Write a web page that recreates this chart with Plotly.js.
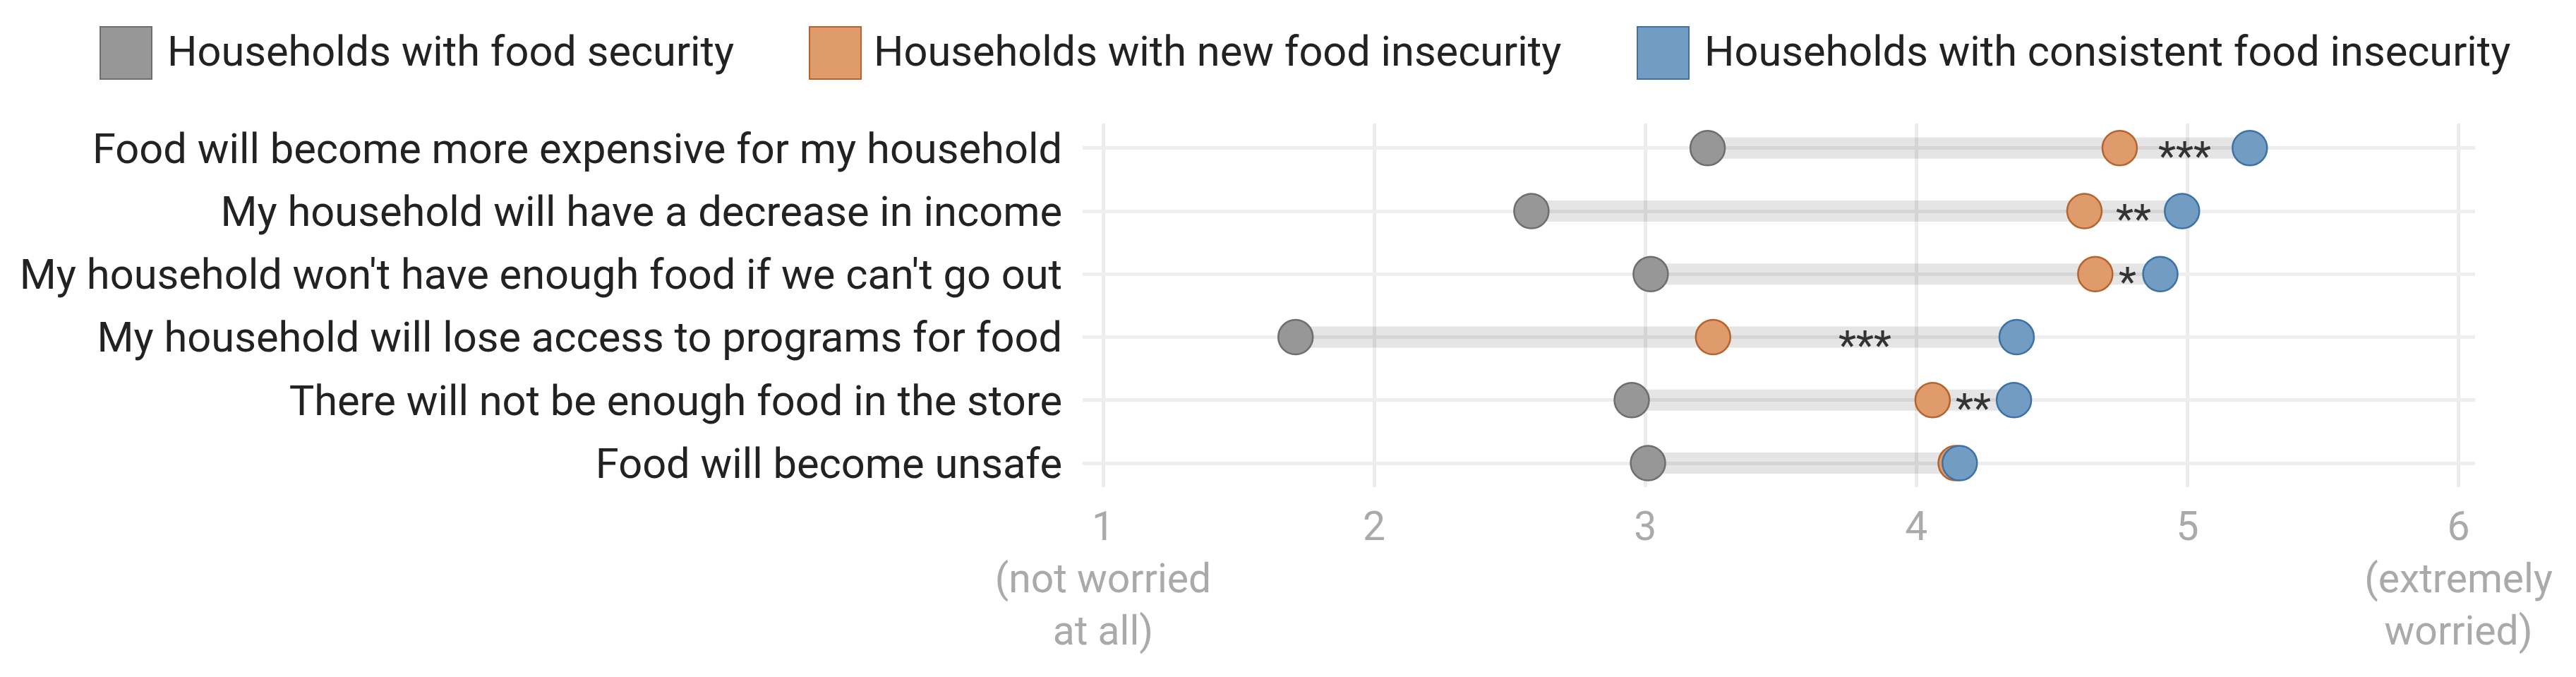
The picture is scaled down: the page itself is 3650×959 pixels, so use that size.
<!DOCTYPE html>
<html>
<head>
<meta charset="utf-8">
<script src="https://cdn.plot.ly/plotly-3.0.1.min.js"></script>
<style>
  html, body { margin: 0; padding: 0; background: #fff; }
  #chart { width: 3650px; height: 959px; }
</style>
</head>
<body>
<div id="chart"></div>
<script>
// data
const statements = [
    "Food will become more expensive for my household",
    "My household will have a decrease in income",
    "My household won't have enough food if we can't go out",
    "My household will lose access to programs for food",
    "There will not be enough food in the store",
    "Food will become unsafe"
];

const foodSecure = [3.23, 2.58, 3.02, 1.71, 2.95, 3.01];
const newInsecure = [4.75, 4.62, 4.66, 3.25, 4.06, 4.145];
const consistentInsecure = [5.23, 4.98, 4.90, 4.37, 4.36, 4.16];

const significance = ["***", "**", "*", "***", "**", ""];

const seriesNames = [
    "Households with food security",
    "Households with new food insecurity",
    "Households with consistent food insecurity"
];

const tickValues = [1, 2, 3, 4, 5, 6];
const tickLabels = [
    "1<br>(not worried<br>at all)",
    "2",
    "3",
    "4",
    "5",
    "6<br>(extremely<br>worried)"
];

// styles
const fills = ["#979797", "#df9b6c", "#729cc1"];
const borders = ["#6e6e6e", "#b5642f", "#3d72a5"];

const W = 3650, H = 959;
const margin = { l: 1534, r: 143, t: 175, b: 269 };

// pixel -> paper helpers for the hand-built legend
const plotW = W - margin.l - margin.r;
const plotH = H - margin.t - margin.b;
const paperX = px => (px - margin.l) / plotW;
const paperY = py => (H - margin.b - py) / plotH;

// band from lowest to highest group in each row
const bandX = [];
const bandY = [];
statements.forEach((s, i) => {
    const vals = [foodSecure[i], newInsecure[i], consistentInsecure[i]];
    bandX.push(Math.min(...vals), Math.max(...vals), null);
    bandY.push(s, s, null);
});

const traces = [];

traces.push({
    x: bandX,
    y: bandY,
    mode: "lines",
    line: { color: "rgba(0,0,0,0.1)", width: 30 },
    hoverinfo: "skip",
    showlegend: false
});

[foodSecure, newInsecure, consistentInsecure].forEach((series, k) => {
    traces.push({
        x: series,
        y: statements,
        name: seriesNames[k],
        mode: "markers",
        marker: {
            size: 49,
            color: fills[k],
            line: { color: borders[k], width: 2.5 }
        },
        showlegend: false
    });
});

// significance stars, half way between new and consistent
const annotations = statements.map((s, i) => ({
    x: (newInsecure[i] + consistentInsecure[i]) / 2,
    y: s,
    xref: "x",
    yref: "y",
    text: significance[i],
    showarrow: false,
    xanchor: "center",
    yanchor: "middle",
    yshift: -11,
    font: { family: "Roboto", size: 58, color: "#333333" }
}));

// legend
const swatchLeft = [142, 1147, 2320];
const textLeft = [235, 1236, 2413];
const shapes = [];

seriesNames.forEach((name, k) => {
    shapes.push({
        type: "rect",
        xref: "paper",
        yref: "paper",
        x0: paperX(swatchLeft[k]),
        x1: paperX(swatchLeft[k] + 73),
        y0: paperY(38),
        y1: paperY(112),
        fillcolor: fills[k],
        line: { color: borders[k], width: 2 }
    });
    annotations.push({
        xref: "paper",
        yref: "paper",
        x: paperX(textLeft[k]),
        y: paperY(73),
        xanchor: "left",
        yanchor: "middle",
        text: name,
        showarrow: false,
        font: { family: "Roboto", size: 59.5, color: "#222222" }
    });
});

// axis line at 1
shapes.push({
    type: "line",
    xref: "x",
    yref: "paper",
    x0: 1,
    x1: 1,
    y0: 0,
    y1: 1,
    line: { color: "#c0c0c0", width: 4 },
    layer: "below"
});

Plotly.newPlot(
    "chart",
    traces,
    {
        width: W,
        height: H,
        margin: margin,
        paper_bgcolor: "#ffffff",
        plot_bgcolor: "#ffffff",
        font: { family: "Roboto", color: "#222222" },
        showlegend: false,
        xaxis: {
            range: [0.9245, 6.061],
            tickvals: tickValues,
            ticktext: tickLabels,
            showgrid: true,
            gridcolor: "#ececec",
            gridwidth: 5,
            zeroline: false,
            showline: false,
            ticks: "",
            ticklabelstandoff: 17,
            tickfont: { family: "Roboto", size: 57, color: "#aaaaaa" }
        },
        yaxis: {
            type: "category",
            categoryarray: statements,
            range: [5.38, -0.39],
            showgrid: true,
            gridcolor: "#eeeeee",
            gridwidth: 5,
            zeroline: false,
            showline: false,
            ticks: "",
            ticklabelstandoff: 28,
            tickfont: { family: "Roboto", size: 59.6, color: "#222222" }
        },
        shapes: shapes,
        annotations: annotations
    },
    { staticPlot: true }
);
</script>
</body>
</html>
